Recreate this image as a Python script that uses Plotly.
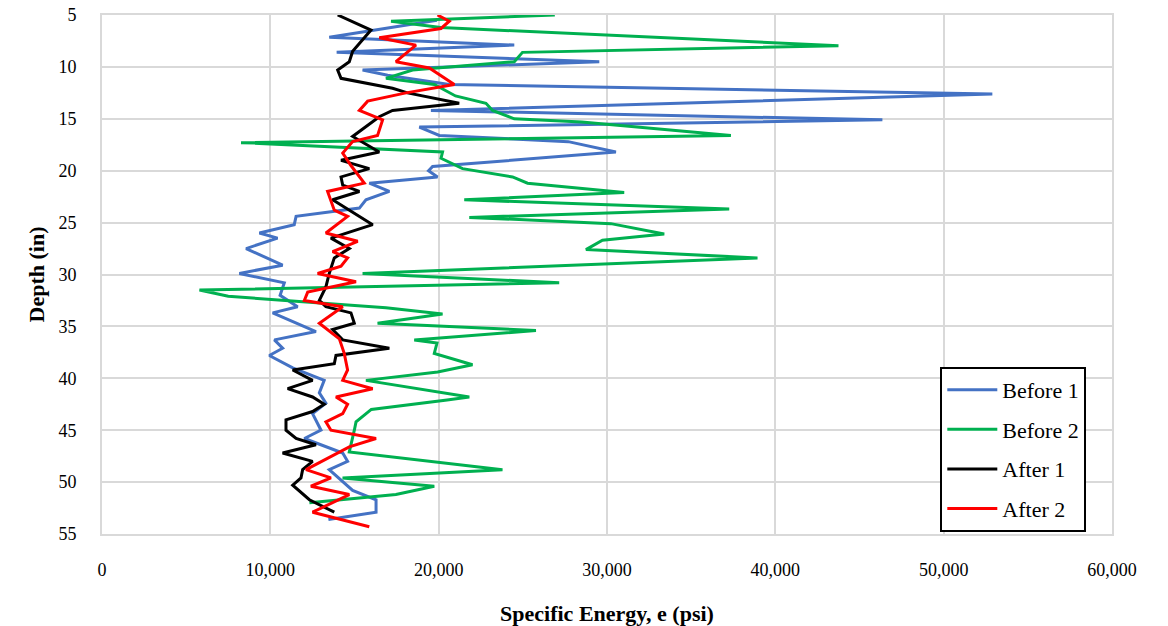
import plotly.graph_objects as go

# Before 1 (blue)
b1_depth = [5.5, 7.15, 7.9, 8.6, 9.5, 10.3, 10.8, 11.7, 12.6, 14.2, 15.1, 15.8, 16.6, 17.2, 18.2,
            19.6, 20.0, 20.6, 21.2, 22.0, 22.8, 23.6, 24.4, 25.2, 26.0, 26.5, 27.5, 29.1, 29.9,
            30.8, 32.0, 33.1, 33.7, 35.5, 36.3, 37.1, 37.8, 39.0, 40.2, 41.4, 42.4, 43.4, 45.0,
            45.8, 47.2, 48.0, 48.8, 50.8, 51.7, 52.9, 53.6]
b1_val = [19900, 13500, 24490, 13940, 29540, 15480, 16970, 20630, 52890, 19540, 46360, 18850, 20040, 27700, 30530,
          19640, 19400, 19930, 15880, 17070, 15680, 15290, 11530, 11420, 9350, 10430, 8560, 10730, 8160,
          10830, 10580, 11620, 10140, 12710, 10240, 10730, 9940, 11330, 13200, 12910, 13300, 12510, 13010,
          12020, 14300, 14590, 13500, 14890, 16280, 16280, 13450]

# Before 2 (green)
b2_depth = [5.0, 5.6, 6.2, 7.96, 8.6, 9.5, 10.3, 11.1, 11.7, 12.8, 13.5, 14.2, 15.0, 15.3, 16.6, 17.3,
            18.2, 18.8, 19.8, 20.6, 21.2, 22.1, 22.8, 23.7, 24.5, 25.1, 26.1, 26.7, 27.6, 28.4,
            29.9, 30.8, 31.5, 32.1, 33.2, 33.8, 34.7, 35.4, 36.3, 36.6, 37.6, 38.7, 39.4, 40.2,
            41.8, 42.1, 43.0, 44.2, 45.0, 47.1, 48.8, 49.6, 50.4, 51.2, 52.0]
b2_val = [26900, 17170, 20130, 43750, 24980, 24490, 18450, 16870, 19740, 21000, 22810, 23200, 24490, 28500, 37360, 8260,
          20230, 20140, 21420, 24390, 25280, 31020, 21520, 37260, 21820, 30230, 33400, 29730, 28750, 38940,
          15480, 27160, 5790, 7500, 16870, 20230, 16370, 25780, 18550, 19900, 19740, 22010, 19940, 15680,
          21820, 20500, 16000, 15090, 14990, 14690, 23790, 14290, 19740, 17460, 12320]

# After 1 (black)
a1_depth = [5.0, 6.45, 8.5, 9.5, 10.3, 11.1, 12.06, 12.5, 13.5, 14.2, 14.8, 16.7, 18.2, 19.0, 19.8, 20.6,
            21.4, 22.0, 22.8, 25.2, 26.5, 27.5, 28.4, 29.9, 31.2, 32.5, 33.1, 33.7, 34.7, 35.3, 36.3,
            37.1, 37.8, 38.6, 39.2, 40.2, 41.0, 41.8, 42.5, 43.2, 44.0, 45.0, 45.8, 46.4, 47.2, 48.0,
            48.8, 49.6, 50.3, 51.7, 52.9]
a1_val = [14000, 15980, 14890, 14690, 14000, 14200, 17260, 18150, 21220, 17260, 16470, 14890, 16470, 14200, 15880, 14200,
          14300, 15290, 13700, 16080, 13600, 14690, 13800, 13500, 13300, 12910, 13300, 14790, 14990, 13700, 14300,
          17070, 13900, 13800, 11330, 12510, 11030, 12510, 13200, 12510, 10930, 10930, 11530, 12710, 10730, 12510,
          11920, 11820, 11330, 12320, 13800]

# After 2 (red)
a2_depth = [5.0, 5.6, 6.3, 7.2, 7.9, 9.5, 10.1, 11.7, 12.5, 13.3, 14.2, 15.1, 16.6, 17.2, 18.3, 19.5,
            21.2, 22.0, 23.8, 24.4, 26.0, 26.8, 27.8, 28.4, 29.2, 29.9, 30.7, 31.7, 32.5, 33.1, 34.7,
            36.2, 37.6, 39.2, 40.2, 41.0, 41.8, 42.5, 43.4, 44.2, 45.0, 45.8, 46.6, 48.8, 49.6, 50.4,
            51.2, 52.9, 54.3]
a2_val = [19930, 20630, 20140, 16470, 18650, 17460, 19440, 20930, 18060, 15780, 15290, 16670, 16370, 14890, 14300, 14790,
          15580, 13400, 13800, 14590, 13300, 15190, 13700, 14590, 14200, 12810, 15090, 12220, 12020, 14300, 12910,
          14100, 14390, 14590, 14300, 16080, 13900, 14590, 14300, 13300, 13600, 16280, 14690, 12120, 13600, 12410,
          14690, 12510, 15880]

x_ticks = [0, 10000, 20000, 30000, 40000, 50000, 60000]
y_ticks = [5, 10, 15, 20, 25, 30, 35, 40, 45, 50, 55]

series = [
    ("Before 1", b1_val, b1_depth, "#4472C4"),
    ("Before 2", b2_val, b2_depth, "#00B050"),
    ("After 1", a1_val, a1_depth, "#000000"),
    ("After 2", a2_val, a2_depth, "#FF0000"),
]

fig = go.Figure()
for i, (name, xv, yv, col) in enumerate(series):
    fig.add_trace(go.Scatter(x=xv, y=yv, mode="lines", name=name, legendgroup=f"g{i}",
                             line=dict(color=col, width=3)))

font_family = "Liberation Serif"
fig.update_layout(
    width=1168, height=626,
    margin=dict(l=102, r=56, t=15, b=92),
    paper_bgcolor="white", plot_bgcolor="white",
    font=dict(family=font_family, size=18, color="#000000"),
    showlegend=True,
    legend=dict(x=0.83, y=0.322, xanchor="left", yanchor="top",
                bordercolor="black", borderwidth=2, bgcolor="white",
                font=dict(family=font_family, size=22, color="black"),
                tracegroupgap=8, itemwidth=50),
    xaxis=dict(range=[0, 60000], tickvals=x_ticks, tickformat=",d", automargin=False,
               showgrid=True, gridcolor="#d9d9d9", gridwidth=2,
               showline=True, linecolor="#d9d9d9", linewidth=2, mirror=True,
               zeroline=False, ticks="", ticklabelstandoff=18,
               title=dict(text="<b>Specific Energy, e (psi)</b>",
                          font=dict(family=font_family, size=22, color="#000000"), standoff=40)),
    yaxis=dict(range=[55, 5], tickvals=y_ticks, automargin=False,
               showgrid=True, gridcolor="#d9d9d9", gridwidth=2,
               showline=True, linecolor="#d9d9d9", linewidth=2, mirror=True,
               zeroline=False, ticks="", ticklabelstandoff=20,
               title=dict(text="<b>Depth (in)</b>",
                          font=dict(family=font_family, size=22, color="#000000"), standoff=8)),
)

fig.write_html("out.html")
